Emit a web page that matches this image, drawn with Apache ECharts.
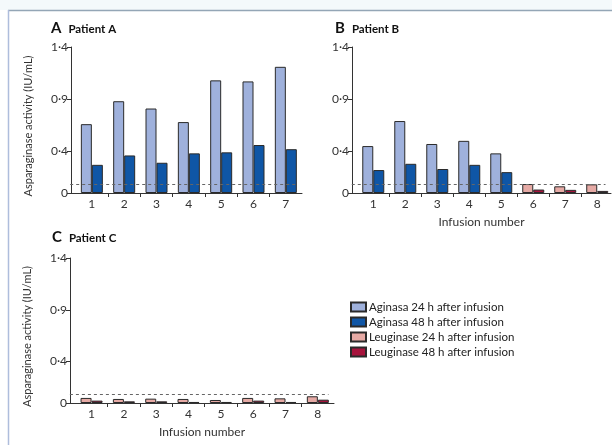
<!DOCTYPE html>
<html>
<head>
<meta charset="utf-8">
<script src="https://cdn.jsdelivr.net/npm/echarts@6/dist/echarts.min.js"></script>
<style>
  html, body { margin: 0; padding: 0; background: #fff; }
  #chart { width: 612px; height: 445px; }
</style>
</head>
<body>
<div id="chart"></div>
<script>
// infusion numbers
const infusionsA = [1, 2, 3, 4, 5, 6, 7];
const infusionsB = [1, 2, 3, 4, 5, 6, 7, 8];
const infusionsC = [1, 2, 3, 4, 5, 6, 7, 8];

// Patient A: Aginasa only
const aAg24 = [0.66, 0.88, 0.81, 0.68, 1.08, 1.07, 1.21];
const aAg48 = [0.27, 0.36, 0.29, 0.38, 0.39, 0.46, 0.42];

// Patient B: Aginasa infusions 1-5, Leuginase infusions 6-8
const bAg24 = [0.45, 0.69, 0.47, 0.50, 0.38];
const bAg48 = [0.22, 0.28, 0.23, 0.27, 0.20];
const bLeu24 = [0.086, 0.064, 0.083];
const bLeu48 = [0.033, 0.03, 0.02];

// Patient C: Leuginase only
const cLeu24 = [0.049, 0.039, 0.042, 0.039, 0.029, 0.049, 0.045, 0.065];
const cLeu48 = [0.023, 0.016, 0.016, 0.01, 0.01, 0.023, 0.01, 0.032];

const threshold = 0.085;
const yTicks = [0, 0.4, 0.9, 1.4];

const names = [
    'Aginasa 24 h after infusion',
    'Aginasa 48 h after infusion',
    'Leuginase 24 h after infusion',
    'Leuginase 48 h after infusion'
];
const colors = ['#9fb1dc', '#0f56a6', '#e6aaa5', '#a6133c'];

const font = 'Lato, "Open Sans", sans-serif';
const axisColor = '#333';
const dot = v => String(v).replace('.', '\u00b7');

const half = arr => arr.slice(0, -1).map(v => v + 0.5);

const makeX = (gridIndex, cats, min, max, name) => ({
    type: 'value',
    gridIndex: gridIndex,
    min: min,
    max: max,
    name: name || '',
    nameLocation: 'middle',
    nameGap: 23,
    nameTextStyle: { fontFamily: font, fontSize: 12, color: '#333' },
    axisLine: { show: true, lineStyle: { color: axisColor, width: 1 } },
    axisTick: { show: true, length: 4, customValues: half(cats), lineStyle: { color: axisColor } },
    axisLabel: {
        customValues: cats,
        margin: 5,
        fontFamily: font,
        fontSize: 12,
        color: '#333',
        formatter: v => String(v)
    },
    splitLine: { show: false }
});

const makeY = (gridIndex, withName) => ({
    type: 'value',
    gridIndex: gridIndex,
    min: 0,
    max: 1.4,
    name: withName ? 'Asparaginase activity (IU/mL)' : '',
    nameLocation: 'middle',
    nameGap: 37,
    nameTextStyle: { fontFamily: font, fontSize: 11, color: '#333', padding: [0, 12, 0, 0] },
    axisLine: { show: true, lineStyle: { color: axisColor, width: 1 } },
    axisTick: { show: true, length: 4, customValues: yTicks, lineStyle: { color: axisColor } },
    axisLabel: {
        customValues: yTicks,
        margin: 3,
        fontFamily: font,
        fontSize: 12,
        color: '#333',
        formatter: v => dot(v)
    },
    splitLine: { show: false }
});

const pairs = (xs, ys, offset) => ys.map((v, i) => [xs[i + (offset || 0)], v]);

const thresholdLine = (x0, x1) => ({
    silent: true,
    symbol: 'none',
    label: { show: false },
    lineStyle: { color: '#666', type: [3, 3], width: 1 },
    data: [[{ coord: [x0, threshold] }, { coord: [x1, threshold] }]]
});

const barBase = (name, colorIdx, xIdx, data) => ({
    name: name,
    type: 'bar',
    xAxisIndex: xIdx,
    yAxisIndex: xIdx,
    barWidth: 11,
    barGap: '0%',
    itemStyle: { color: colors[colorIdx], borderColor: '#2a2a2a', borderWidth: 1 },
    data: data
});

// Patient B mixes Aginasa and Leuginase at the same bar slots
const bData24 = pairs(infusionsB, bAg24).concat(
    pairs(infusionsB, bLeu24, bAg24.length).map(d => ({ value: d, itemStyle: { color: colors[2] } })));
const bData48 = pairs(infusionsB, bAg48).concat(
    pairs(infusionsB, bLeu48, bAg48.length).map(d => ({ value: d, itemStyle: { color: colors[3] } })));

const serA24 = barBase(names[0], 0, 0, pairs(infusionsA, aAg24));
serA24.markLine = thresholdLine(0.5, 7.5);
const serB24 = barBase(names[0], 0, 1, bData24);
serB24.markLine = thresholdLine(0.5, 8.43);
const serC24 = barBase(names[2], 2, 2, pairs(infusionsC, cLeu24));
serC24.markLine = thresholdLine(0.5, 8.5);

const titleFor = (letter, label, left, top) => ({
    text: '{l|' + letter + '}{p|' + label + '}',
    left: left,
    top: top,
    padding: 0,
    textStyle: {
        rich: {
            l: { fontFamily: font, fontSize: 15, fontWeight: 'bold', color: '#111', lineHeight: 17 },
            p: { fontFamily: font, fontSize: 11.5, fontWeight: 'bold', color: '#111', lineHeight: 17, padding: [1, 0, 0, 7] }
        }
    }
});

const option = {
    backgroundColor: '#fff',
    animation: false,
    graphic: [
        { type: 'rect', shape: { x: 0, y: 0, width: 612, height: 10 }, style: { fill: '#f4f9fb' } },
        { type: 'line', shape: { x1: 8, y1: 10.5, x2: 612, y2: 10.5 }, style: { stroke: '#94a6b6', lineWidth: 1.5 } },
        { type: 'line', shape: { x1: 8.5, y1: 10, x2: 8.5, y2: 445 }, style: { stroke: '#aebddc', lineWidth: 1.5 } }
    ],
    title: [
        titleFor('A', 'Patient A', 51, 20),
        titleFor('B', 'Patient B', 335, 20),
        titleFor('C', 'Patient C', 52, 229)
    ],
    legend: {
        orient: 'vertical',
        left: 350,
        top: 301,
        padding: 0,
        itemWidth: 15,
        itemHeight: 9,
        itemGap: 3,
        icon: 'rect',
        textStyle: { fontFamily: font, fontSize: 11.5, color: '#222', padding: [0, 0, 0, -2] },
        data: names
    },
    grid: [
        { left: 71, top: 47, width: 231, height: 146 },
        { left: 352, top: 47, width: 259, height: 146 },
        { left: 70, top: 258, width: 264, height: 145 }
    ],
    xAxis: [
        makeX(0, infusionsA, 0.355, 7.5),
        makeX(1, infusionsB, 0.335, 8.43, 'Infusion number'),
        makeX(2, infusionsC, 0.333, 8.5, 'Infusion number')
    ],
    yAxis: [
        makeY(0, true),
        makeY(1, false),
        makeY(2, true)
    ],
    series: [
        serA24,
        barBase(names[1], 1, 0, pairs(infusionsA, aAg48)),
        serB24,
        barBase(names[1], 1, 1, bData48),
        serC24,
        barBase(names[3], 3, 2, pairs(infusionsC, cLeu48))
    ]
};

const chart = echarts.init(document.getElementById('chart'), null, { renderer: 'canvas' });
chart.setOption(option);
</script>
</body>
</html>
